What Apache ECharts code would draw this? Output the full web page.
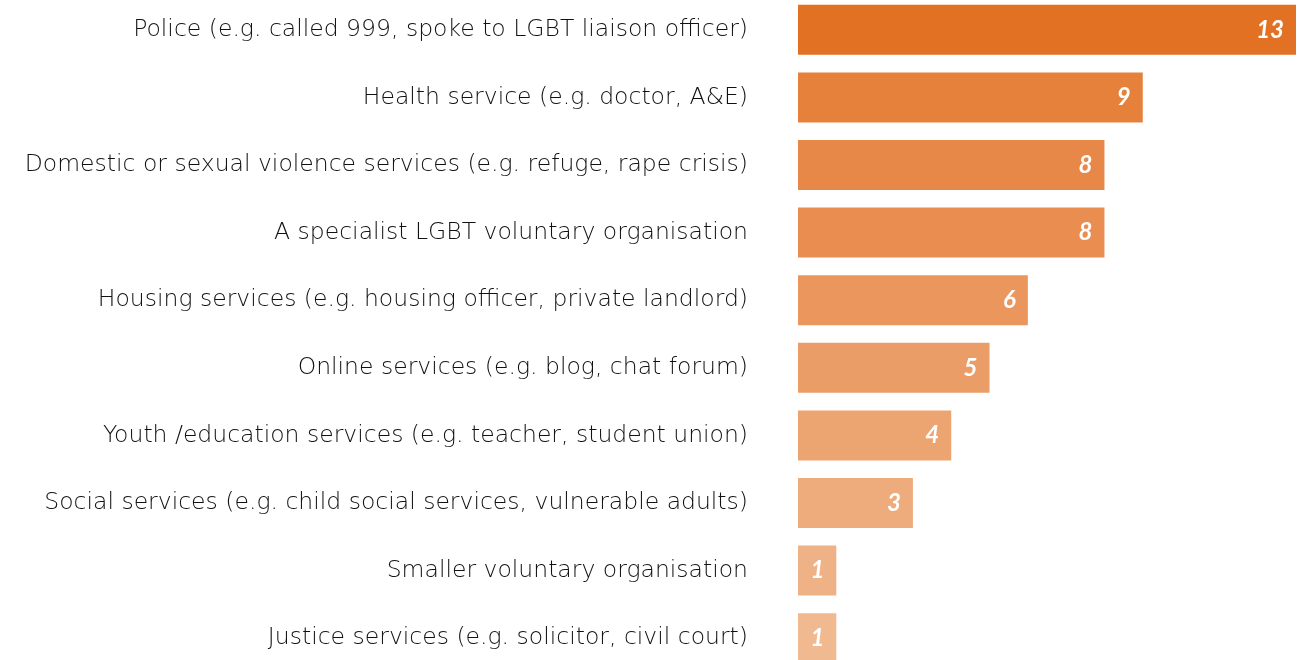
<!DOCTYPE html>
<html>
<head>
<meta charset="utf-8">
<script src="https://cdn.jsdelivr.net/npm/echarts@6/dist/echarts.min.js"></script>
<style>
  html, body { margin: 0; padding: 0; background: #fff; overflow: hidden; width: 1303px; height: 660px; }
  #chart { position: absolute; left: 0; top: -4px; width: 1303px; height: 676px; }
</style>
</head>
<body>
<div id="chart"></div>
<script>
// categories, top to bottom
const categories = [
    'Police (e.g. called 999, spoke to LGBT liaison officer)',
    'Health service (e.g. doctor, A&E)',
    'Domestic or sexual violence services (e.g. refuge, rape crisis)',
    'A specialist LGBT voluntary organisation',
    'Housing services (e.g. housing officer, private landlord)',
    'Online services (e.g. blog, chat forum)',
    'Youth /education services (e.g. teacher, student union)',
    'Social services (e.g. child social services, vulnerable adults)',
    'Smaller voluntary organisation',
    'Justice services (e.g. solicitor, civil court)'
];
const counts = [13, 9, 8, 8, 6, 5, 4, 3, 1, 1];

// bar shades, dark to light
const shades = ['#E27124', '#E6813C', '#E88848', '#E98D50', '#EA965D', '#EB9D67',
    '#ECA471', '#EEAB7C', '#EFB286', '#F0B98F'];

const chart = echarts.init(document.getElementById('chart'));

chart.setOption({
    animation: false,
    grid: { left: 798, right: 7, top: 0, bottom: 0, containLabel: false },
    xAxis: {
        type: 'value', min: 0, max: 13,
        show: false
    },
    yAxis: {
        type: 'category', data: categories, inverse: true,
        axisLine: { show: false },
        axisTick: { show: false },
        axisLabel: {
            color: '#111111', fontSize: 23.5, margin: 50,
            padding: [0, 0, 5, 0],
            fontFamily: '"DejaVu Sans", sans-serif', fontWeight: 300
        }
    },
    series: [{
        type: 'bar',
        data: counts.map((v, i) => ({ value: v, itemStyle: { color: shades[i] } })),
        barWidth: 50,
        label: {
            show: true, position: 'insideRight', distance: 12,
            color: '#fff', fontSize: 24, fontWeight: 'bold', fontStyle: 'italic',
            fontFamily: 'Lato, "Noto Sans", sans-serif'
        }
    }]
});
</script>
</body>
</html>
